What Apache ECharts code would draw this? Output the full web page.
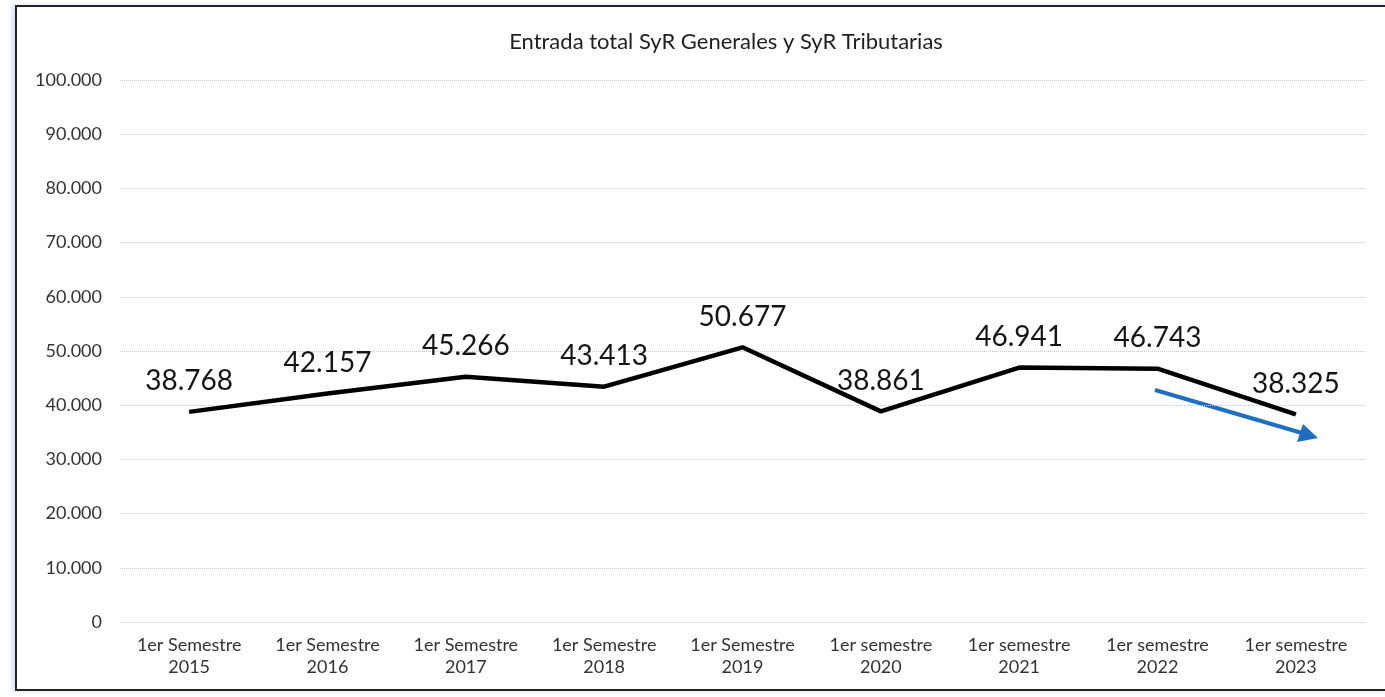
<!DOCTYPE html>
<html>
<head>
<meta charset="utf-8">
<script src="https://cdn.jsdelivr.net/npm/echarts@6/dist/echarts.min.js"></script>
<style>
  html, body { margin: 0; padding: 0; background: #fff; }
  #frame { position: absolute; left: 15px; top: 5px; width: 1375px; height: 686px;
           border: 2px solid #222; box-shadow: -3px 0 4px rgba(90,120,200,0.25); box-sizing: border-box; }
  #chart { position: absolute; left: 0; top: 0; width: 1385px; height: 697px; }
</style>
</head>
<body>
<div id="frame"></div>
<div id="chart"></div>
<script>
// datos
const categories = [
  '1er Semestre\n2015', '1er Semestre\n2016', '1er Semestre\n2017', '1er Semestre\n2018',
  '1er Semestre\n2019', '1er semestre\n2020', '1er semestre\n2021', '1er semestre\n2022',
  '1er semestre\n2023'
];
const entradas = [38768, 42157, 45266, 43413, 50677, 38861, 46941, 46743, 38325];

function fmtMiles(v) {
  return String(v).replace(/\B(?=(\d{3})+(?!\d))/g, '.');
}

const myChart = echarts.init(document.getElementById('chart'));
const option = {
  animation: false,
  title: {
    text: 'Entrada total SyR Generales y SyR Tributarias',
    left: 721,
    textAlign: 'center',
    top: 26,
    textStyle: { fontFamily: 'Lato', fontSize: 22, fontWeight: 'normal', color: '#1f1f1f' }
  },
  grid: { left: 120, right: 20, top: 80, bottom: 75 },
  xAxis: {
    type: 'category',
    data: categories,
    boundaryGap: true,
    axisLine: { show: false },
    axisTick: { show: false },
    axisLabel: {
      interval: 0,
      margin: 12,
      fontFamily: 'Lato',
      fontSize: 18,
      lineHeight: 22,
      color: '#333'
    }
  },
  yAxis: {
    type: 'value',
    min: 0,
    max: 100000,
    interval: 10000,
    axisLine: { show: false },
    axisTick: { show: false },
    axisLabel: {
      margin: 18,
      fontFamily: 'Lato',
      fontSize: 18,
      color: '#333',
      formatter: fmtMiles
    },
    splitLine: { lineStyle: { color: '#c8c8c8', type: 'dotted', width: 1 } }
  },
  series: [{
    type: 'line',
    data: entradas,
    symbol: 'circle',
    symbolSize: 1,
    showSymbol: true,
    itemStyle: { color: '#000' },
    lineStyle: { color: '#000', width: 4.5 },
    label: {
      show: true,
      position: 'top',
      distance: 16,
      fontFamily: 'Lato',
      fontSize: 28,
      color: '#141414',
      formatter: p => fmtMiles(p.value)
    }
  }],
  // flecha azul de tendencia
  graphic: [
    { type: 'line', shape: { x1: 1155, y1: 390, x2: 1302, y2: 433 },
      style: { stroke: '#1f6fc0', lineWidth: 4 } },
    { type: 'polygon', shape: { points: [[1318, 438], [1297, 442], [1303, 424]] },
      style: { fill: '#1f6fc0' } }
  ]
};
myChart.setOption(option);
</script>
</body>
</html>
